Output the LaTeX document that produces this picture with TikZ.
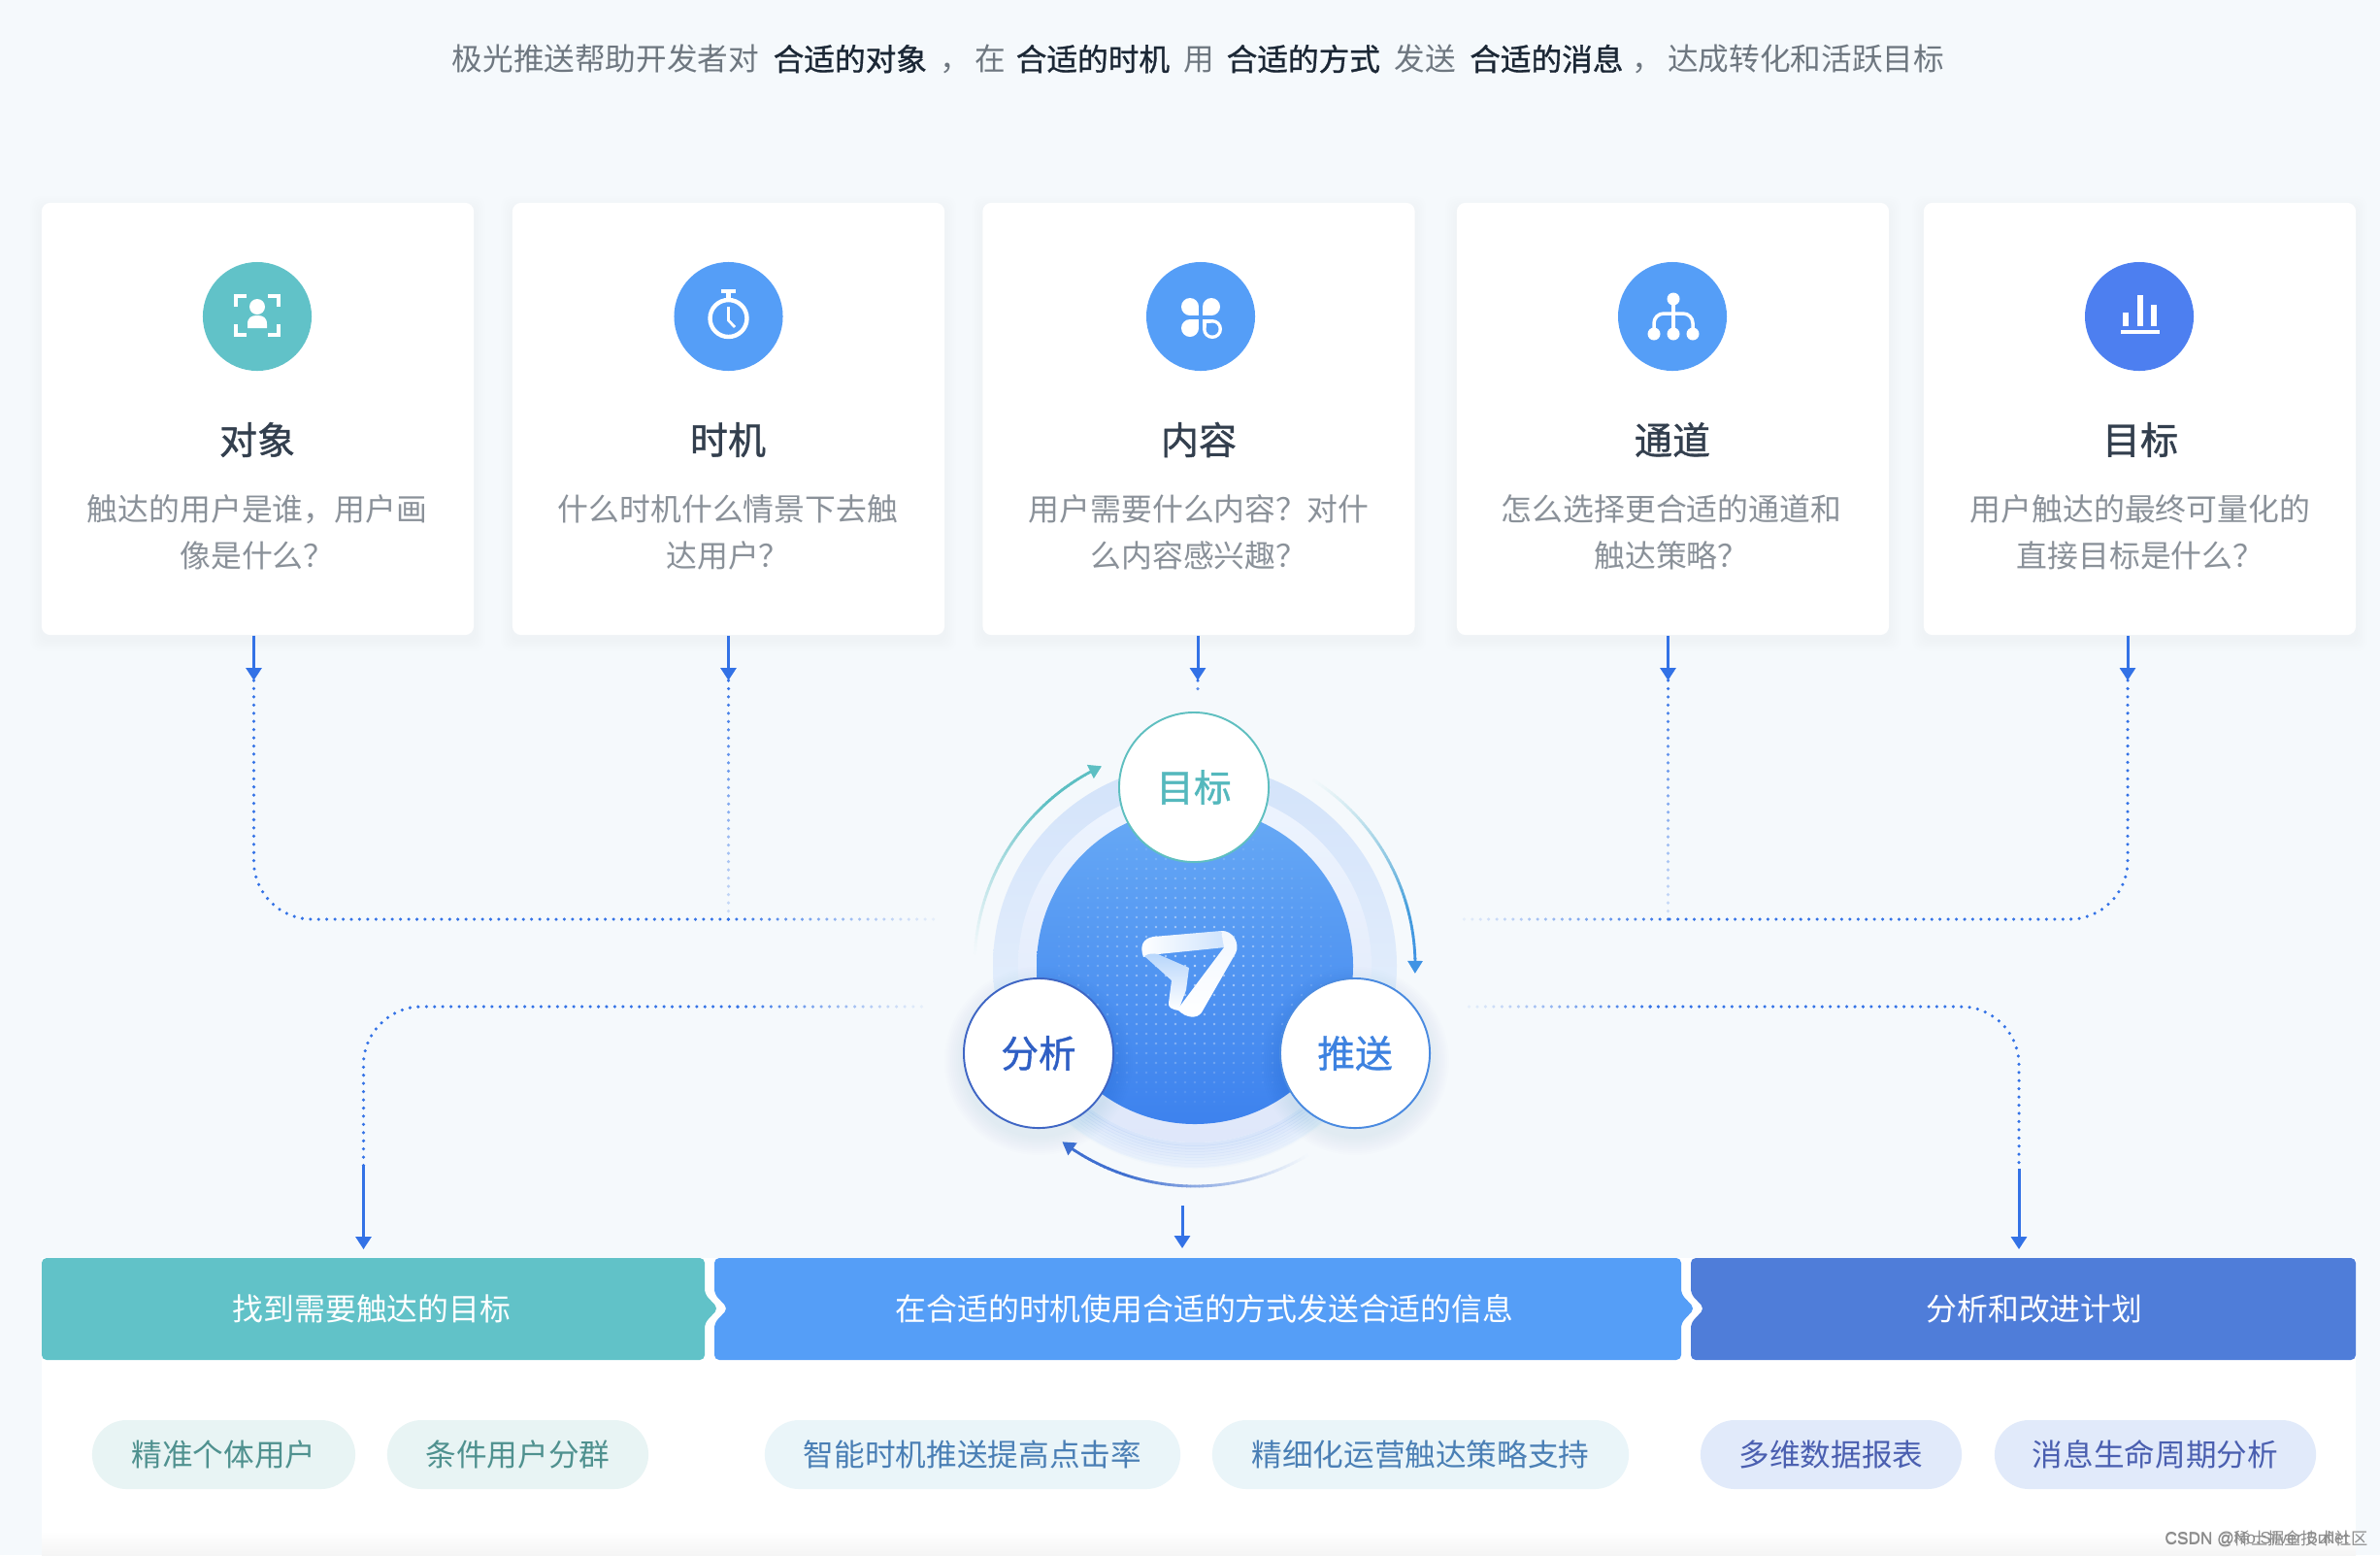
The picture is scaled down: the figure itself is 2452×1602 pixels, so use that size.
\documentclass[tikz,border=0pt]{standalone}
\usepackage{fontspec}
\usetikzlibrary{arrows.meta,calc,shapes.geometric}
\setmainfont{Noto Sans CJK SC}
\newfontfamily\cjk{Noto Sans CJK SC}
\newfontfamily\cjkm[FakeBold=1.0]{Noto Sans CJK SC}
\newfontfamily\latinf{Liberation Sans}
\definecolor{bgc}{HTML}{F5F9FC}
\definecolor{tealc}{HTML}{61C2C8}
\definecolor{bluec}{HTML}{559EF7}
\definecolor{indc}{HTML}{4F7DD9}
\definecolor{inds}{HTML}{4D7FF0}
\definecolor{linec}{HTML}{3372E6}
\definecolor{titlec}{HTML}{333F4E}
\definecolor{descc}{HTML}{8A9199}
\definecolor{topc}{HTML}{6E7780}
\definecolor{topb}{HTML}{1B2735}
\definecolor{arct}{HTML}{5DBFC3}
\definecolor{arcb}{HTML}{3F93E4}
\definecolor{arci}{HTML}{3F6FD0}
\definecolor{pilla}{HTML}{E8F4F4}
\definecolor{pillat}{HTML}{4F918F}
\definecolor{pillb}{HTML}{EAF5F9}
\definecolor{pillbt}{HTML}{4A7FB5}
\definecolor{pillc}{HTML}{E1EAFA}
\definecolor{pillct}{HTML}{4A5FB0}
\definecolor{hubt}{HTML}{54B8BD}
\definecolor{huba}{HTML}{2F5FC4}
\definecolor{hubp}{HTML}{3D82E0}
\definecolor{hubtb}{HTML}{5FBFC0}
\definecolor{hubab}{HTML}{3F66C4}
\definecolor{hubpb}{HTML}{4A8AE0}
\definecolor{ringa}{HTML}{D3E3FA}
\definecolor{ringb}{HTML}{EDF4FD}
\definecolor{ringc}{HTML}{EDF4FE}
\definecolor{ringd}{HTML}{DFE7FA}
\definecolor{corea}{HTML}{67A9F5}
\definecolor{coreb}{HTML}{3D82EE}
\tikzset{
  cardbox/.style={draw=none,fill=white,rounded corners=0.09cm,minimum width=4.45cm,minimum height=4.45cm,inner sep=0pt},
  iconbg/.style={circle,minimum size=1.12cm,inner sep=0pt,draw=none},
  titletx/.style={font=\cjkm\fontsize{11.1}{13}\selectfont,text=titlec,inner sep=0pt},
  desctx/.style={font=\cjk\fontsize{9.05}{13.65}\selectfont,text=descc,align=center,inner sep=0pt},
  bartx/.style={font=\cjk\fontsize{9.05}{11}\selectfont,text=white,inner sep=0pt},
  pill/.style={rounded corners=0.355cm,minimum height=0.71cm,inner sep=0pt,font=\cjk\fontsize{9}{11}\selectfont},
  hub/.style={circle,fill=white,minimum size=1.54cm,inner sep=0pt,line width=0.55pt,font=\cjkm\fontsize{11}{13}\selectfont},
  solidarrow/.style={draw=linec,line width=0.85pt,-{Triangle[width=0.16cm,length=0.13cm]}},
  dotline/.style={draw=linec,line width=1pt,line cap=round,dash pattern=on 0pt off 2.4pt},
  iconw/.style={fill=white,draw=none},
  iconl/.style={draw=white,fill=none}
}
\newcommand{\fadedots}[5]{%
  \foreach \i in {1,...,#5}{%
    \pgfmathsetmacro{\mixv}{#3+(#4-#3)*(\i-1)/(#5-1)}%
    \fill[color={linec!\mixv!bgc}] ($(#1)!{(\i-1)/#5}!(#2)$) circle [radius=1.75];
  }%
}
\newcommand{\cardshadow}[4]{%
  \foreach \s in {2,4,...,12}{%
    \fill[black,opacity=0.003,rounded corners=0.1cm] ({#1-\s},{#2-\s+5}) rectangle ({#3+\s},{#4+\s+5});
  }%
}
\newcommand{\fadearc}[4]{%
  \foreach \k in {0,...,59}{%
    \pgfmathsetmacro{\aa}{#1+(#2-#1)*\k/60}%
    \pgfmathsetmacro{\ab}{#1+(#2-#1)*(\k+1.15)/60}%
    \pgfmathsetmacro{\mixv}{min(100,100*(\k/45)^1.2)}%
    \pgfmathsetmacro{\mixw}{100*\k/59}%
    \colorlet{segc}{#4!\mixw!#3}%
    \draw[color={segc!\mixv!bgc},line width=0.8pt] ({1231+227*cos(\aa)},{995-227*sin(\aa)}) -- ({1231+227*cos(\ab)},{995-227*sin(\ab)});
  }%
}
\newcommand{\hubshadow}[2]{%
  \foreach \s in {2,4,...,20}{%
    \fill[linec,opacity=0.009] (#1,{#2+8}) circle [radius={77+\s}];
  }%
}
\begin{document}
\begin{tikzpicture}[x=0.01cm,y=-0.01cm]
\useasboundingbox (0,0) rectangle (2452,1602);
\fill[bgc] (0,0) rectangle (2452,1602);

% top sentence
\node[anchor=west,inner sep=0pt,text=topc,font=\cjk\fontsize{9}{11}\selectfont] (headline) at (465,61)
 {极光推送帮助开发者对\hspace{0.145cm}{\cjkm\color{topb}合适的对象}\hspace{0.135cm}，\hspace{0.04cm}在\hspace{0.11cm}{\cjkm\color{topb}合适的时机}\hspace{0.14cm}用\hspace{0.13cm}{\cjkm\color{topb}合适的方式}\hspace{0.15cm}发送\hspace{0.14cm}{\cjkm\color{topb}合适的消息}\hspace{0.09cm}，\hspace{0.05cm}达成转化和活跃目标};

% cards
\cardshadow{43}{209}{488}{654}
\cardshadow{528}{209}{973}{654}
\cardshadow{1013}{209}{1457}{654}
\cardshadow{1501}{209}{1946}{654}
\cardshadow{1982}{209}{2427}{654}
\node[cardbox] (c1) at (265.5,431.5) {};
\node[cardbox] (c2) at (750.5,431.5) {};
\node[cardbox] (c3) at (1235,431.5) {};
\node[cardbox] (c4) at (1723.5,431.5) {};
\node[cardbox] (c5) at (2204.5,431.5) {};

\node[iconbg,fill=tealc] (i1) at (265,326) {};
\node[iconbg,fill=bluec] (i2) at (750.5,326) {};
\node[iconbg,fill=bluec] (i3) at (1237,326) {};
\node[iconbg,fill=bluec] (i4) at (1723,326) {};
\node[iconbg,fill=inds] (i5) at (2204,326) {};

\node[titletx] (t1) at (265,453) {对象};
\node[titletx] (t2) at (750,453) {时机};
\node[titletx] (t3) at (1235,453) {内容};
\node[titletx] (t4) at (1723,453) {通道};
\node[titletx] (t5) at (2205,453) {目标};

\node[desctx] (d1) at (265,548) {触达的用户是谁，用户画\\像是什么？};
\node[desctx] (d2) at (750,548) {什么时机什么情景下去触\\达用户？};
\node[desctx] (d3) at (1235,548) {用户需要什么内容？对什\\么内容感兴趣？};
\node[desctx] (d4) at (1722,548) {怎么选择更合适的通道和\\触达策略？};
\node[desctx] (d5) at (2205,548) {用户触达的最终可量化的\\直接目标是什么？};

% icon 1
\begin{scope}[line width=1pt]
\draw[iconl] (243,316) -- (243,305) -- (254,305);
\draw[iconl] (276,305) -- (287,305) -- (287,316);
\draw[iconl] (243,334) -- (243,345) -- (254,345);
\draw[iconl] (276,345) -- (287,345) -- (287,334);
\end{scope}
\fill[iconw] (265,316) circle [radius=8];
\fill[iconw] (255,338) -- (255,334) .. controls (255,327) and (259,325) .. (265,325) .. controls (271,325) and (275,327) .. (275,334) -- (275,338) -- cycle;
% icon 2
\draw[iconl,line width=1.25pt] (750.5,328) circle [radius=19];
\draw[iconl,line width=1.2pt] (743,300) -- (758,300);
\draw[iconl,line width=1.2pt] (750.5,300) -- (750.5,310);
\draw[iconl,line width=0.8pt] (750.5,316) -- (750.5,330) -- (757,337);
% icon 3
\fill[iconw] (1226,316) circle [radius=9]; \fill[iconw] (1226,316) rectangle (1235,325);
\fill[iconw] (1248,316) circle [radius=9]; \fill[iconw] (1239,316) rectangle (1248,325);
\fill[iconw] (1226,338) circle [radius=9]; \fill[iconw] (1226,329) rectangle (1235,338);
\fill[iconw] (1249,339) circle [radius=10]; \fill[iconw] (1239,329) rectangle (1249,339);
\fill[bluec] (1249,339) circle [radius=6.5]; \fill[bluec] (1242.5,332.5) rectangle (1249,339);
% icon 4
\draw[iconl,line width=1pt] (1724,308) -- (1724,344);
\draw[iconl,line width=1pt,rounded corners=0.1cm] (1724,323) -- (1704,323) -- (1704,344);
\draw[iconl,line width=1pt,rounded corners=0.1cm] (1724,323) -- (1744,323) -- (1744,344);
\fill[iconw] (1724,308) circle [radius=6.5];
\fill[iconw] (1704,344) circle [radius=6.5];
\fill[iconw] (1724,344) circle [radius=6.5];
\fill[iconw] (1744,344) circle [radius=6.5];
% icon 5
\fill[iconw] (2187,322) rectangle (2193,336);
\fill[iconw] (2201.5,304) rectangle (2207.5,336);
\fill[iconw] (2215.5,314) rectangle (2221.5,336);
\fill[iconw] (2185,340) rectangle (2225,344);

% bottom panel
\fill[white] (43,1296) rectangle (2427,1577);
\shade[top color=white,bottom color=black!4] (43,1577) rectangle (2427,1602);

% phase bars
\fill[tealc,rounded corners=0.05cm] (43,1296) -- (726,1296) -- (726,1333) -- (740,1348) -- (726,1363) -- (726,1401) -- (43,1401) -- cycle;
\fill[bluec,rounded corners=0.05cm] (736,1296) -- (1732,1296) -- (1732,1333) -- (1746,1348) -- (1732,1363) -- (1732,1401) -- (736,1401) -- (736,1363) -- (750,1348) -- (736,1333) -- cycle;
\fill[indc,rounded corners=0.05cm] (1742,1296) -- (2427,1296) -- (2427,1401) -- (1742,1401) -- (1742,1363) -- (1756,1348) -- (1742,1333) -- cycle;
\node[bartx] (b1) at (383,1348) {找到需要触达的目标};
\node[bartx] (b2) at (1241,1348) {在合适的时机使用合适的方式发送合适的信息};
\node[bartx] (b3) at (2096,1348) {分析和改进计划};

% pills
\node[pill,fill=pilla,text=pillat,minimum width=2.71cm] (p1) at (230.5,1498.5) {精准个体用户};
\node[pill,fill=pilla,text=pillat,minimum width=2.69cm] (p2) at (533.5,1498.5) {条件用户分群};
\node[pill,fill=pillb,text=pillbt,minimum width=4.28cm] (p3) at (1002,1498.5) {智能时机推送提高点击率};
\node[pill,fill=pillb,text=pillbt,minimum width=4.29cm] (p4) at (1463.5,1498.5) {精细化运营触达策略支持};
\node[pill,fill=pillc,text=pillct,minimum width=2.69cm] (p5) at (1886.5,1498.5) {多维数据报表};
\node[pill,fill=pillc,text=pillct,minimum width=3.31cm] (p6) at (2220.5,1498.5) {消息生命周期分析};

% watermark
\node[anchor=west,inner sep=0pt,text=black!45,font=\latinf\fontsize{4.9}{7}\selectfont] (w1) at (2230,1585) {CSDN @{\cjk 稀土掘金技术社区}};
\node[anchor=west,inner sep=0pt,text=black!45,font=\latinf\fontsize{4.9}{7}\selectfont] (w2) at (2230,1585) {CSDN @No.Silver Bullet};

% connector anchors
\coordinate (o1) at ($(c1.south)+(-4,0)$);
\coordinate (o2) at ($(c2.south)+(0,0)$);
\coordinate (o3) at ($(c3.south)+(-1,0)$);
\coordinate (o4) at ($(c4.south)+(-5,0)$);
\coordinate (o5) at ($(c5.south)+(-12.5,0)$);
\coordinate (k1) at (261.5,701);
\coordinate (k2) at (750.5,701);
\coordinate (k3) at (1234,701);
\coordinate (k4) at (1718.5,701);
\coordinate (k5) at (2192,701);
\coordinate (m1) at (750.5,947);
\coordinate (m2) at (1718.5,947);
\coordinate (e1) at (970,947);
\coordinate (e2) at (1500,947);
\coordinate (n1) at (760,1037);
\coordinate (n2) at (1700,1037);
\coordinate (f1) at (958,1037);
\coordinate (f2) at (1505,1037);
\coordinate (s1) at (374.5,1201);
\coordinate (s2) at (2080,1204);
\coordinate (q1) at (374.5,1287);
\coordinate (q2) at (2080,1287);
\coordinate (r1) at (1218,1242);
\coordinate (r2) at (1218,1286);
\coordinate (k3e) at (1234,718);

% dotted connectors
\draw[dotline,rounded corners=0.6cm] (k1) |- (m1);
\draw[dotline,rounded corners=0.6cm] (k5) |- (m2);
\fadedots{k2}{m1}{100}{22}{29}
\fadedots{k4}{m2}{100}{22}{29}
\fadedots{m1}{e1}{100}{8}{26}
\fadedots{m2}{e2}{100}{8}{26}
\fadedots{k3}{k3e}{100}{80}{2}
\fadedots{n1}{f1}{100}{8}{23}
\fadedots{n2}{f2}{100}{8}{23}
\draw[dotline,rounded corners=0.6cm] (n1) -| (s1);
\draw[dotline,rounded corners=0.6cm] (n2) -| (s2);
% solid arrows
\draw[solidarrow] (o1) -- (k1);
\draw[solidarrow] (o2) -- (k2);
\draw[solidarrow] (o3) -- (k3);
\draw[solidarrow] (o4) -- (k4);
\draw[solidarrow] (o5) -- (k5);
\draw[solidarrow] (s1) -- (q1);
\draw[solidarrow] (s2) -- (q2);
\draw[solidarrow] (r1) -- (r2);

% hub rings
\shade[top color=ringa,bottom color=ringb] (1231,995) circle [radius=208];
\foreach \r in {184,187,...,208}{%
  \pgfmathsetmacro{\ov}{0.09*(208-\r)/24+0.012}
  \draw[linec,line width=1pt,opacity=\ov] plot[domain=-135:-45,samples=40] ({1231+\r*cos(\x)},{995-\r*sin(\x)});
}
\shade[top color=ringc,bottom color=ringd] (1231,995) circle [radius=182];
\shade[top color=corea,bottom color=coreb] (1231,995) circle [radius=163];
% dot texture
\foreach \gx in {-15,...,15}{%
  \foreach \gy in {-15,...,15}{%
    \pgfmathsetmacro{\dd}{sqrt(\gx*\gx+\gy*\gy)}
    \pgfmathparse{\dd<14.5 ? 1 : 0}
    \ifnum\pgfmathresult=1
      \pgfmathsetmacro{\ov}{0.6*(1-\dd/14.5)+0.06}
      \fill[white,opacity=\ov] ({1231+10*\gx},{995+10*\gy}) circle [radius=1.3];
    \fi
  }
}
% logo
\shade[left color=white,right color=white!72!bluec]
  (1178,986) .. controls (1174,975) and (1177,967) .. (1188,965) -- (1258,959) -- (1262,976) -- (1193,983) -- cycle;
\shade[top color=white!58!bluec,bottom color=white]
  (1179,985) .. controls (1184,982) and (1188,982) .. (1193,983) -- (1225,997) -- (1222,1020) -- (1214,1041) .. controls (1208,1040) and (1203,1038) .. (1204,1033) -- (1207,1010) -- cycle;
\shade[top color=white!92!bluec,bottom color=white]
  (1258,959) .. controls (1270,958) and (1278,972) .. (1273,982) -- (1238,1043) .. controls (1233,1050) and (1222,1049) .. (1213,1040) -- (1261,976) -- cycle;

% cycle arcs
\fadearc{178}{117}{arct}{arct}
\fadearc{58.5}{1}{arct}{arcb}
\fadearc{-58}{-124}{arci}{arci}
\coordinate (a1s) at ({1231+227*cos(117)},{995-227*sin(117)});
\coordinate (a1e) at ({1231+227*cos(115)},{995-227*sin(115)});
\coordinate (a2s) at ({1231+227*cos(1)},{995-227*sin(1)});
\coordinate (a2e) at ({1231+227*cos(-2)},{995-227*sin(-2)});
\coordinate (a3s) at ({1231+227*cos(-124)},{995-227*sin(-124)});
\coordinate (a3e) at ({1231+227*cos(-127)},{995-227*sin(-127)});
\draw[draw=arct,line width=0.8pt,-{Triangle[width=0.15cm,length=0.13cm]}] (a1s) -- (a1e);
\draw[draw=arcb,line width=0.8pt,-{Triangle[width=0.15cm,length=0.13cm]}] (a2s) -- (a2e);
\draw[draw=arci,line width=0.8pt,-{Triangle[width=0.15cm,length=0.13cm]}] (a3s) -- (a3e);

% hub nodes
\hubshadow{1070}{1085}
\hubshadow{1396}{1085}
\node[hub,draw=hubtb,text=hubt] (h1) at (1230,811) {目标};
\node[hub,draw=hubab,text=huba] (h2) at (1070,1085) {分析};
\node[hub,draw=hubpb,text=hubp] (h3) at (1396,1085) {推送};
\end{tikzpicture}
\end{document}
